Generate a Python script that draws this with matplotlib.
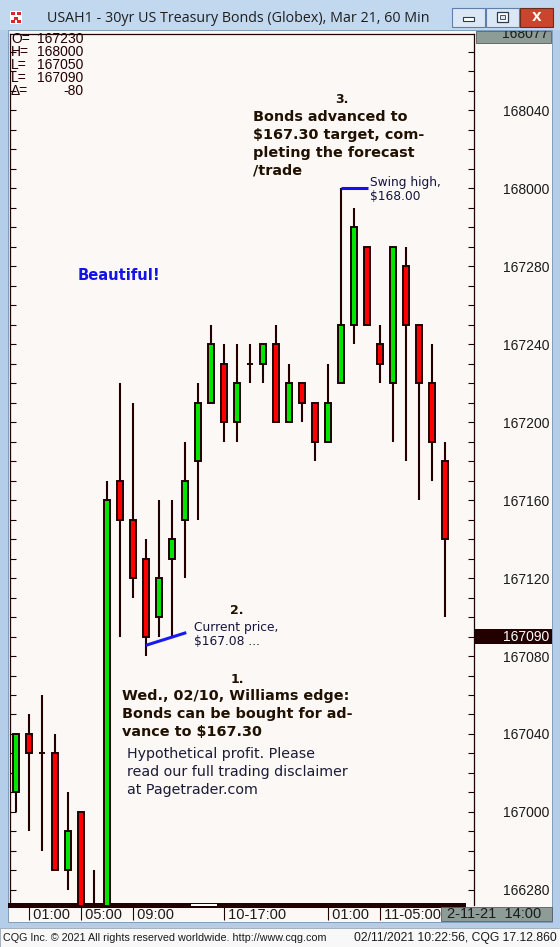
import matplotlib
matplotlib.use("Agg")
import matplotlib.pyplot as plt
from matplotlib.patches import Rectangle

# 60 min bars, 02/10 00:00 .. 02/11 10:00 (no 16:00 bar), prices in 32nds (167 04 -> 167*32 + 4)
bar_open = [5345, 5348, 5347, 5347, 5341, 5344, 5338, 5337, 5361, 5359, 5357, 5354,
            5357, 5359, 5362, 5365, 5367, 5364, 5367, 5367, 5368, 5364, 5366, 5365,
            5363, 5366, 5369, 5373, 5368, 5366, 5372, 5369, 5366, 5362]
bar_high = [5348, 5349, 5350, 5348, 5345, 5344, 5341, 5361, 5366, 5365, 5358, 5360,
            5360, 5363, 5366, 5369, 5368, 5368, 5368, 5368, 5369, 5367, 5366, 5365,
            5367, 5376, 5375, 5373, 5369, 5373, 5373, 5369, 5368, 5363]
bar_low = [5344, 5343, 5342, 5341, 5340, 5336, 5336, 5336, 5353, 5355, 5352, 5353,
           5353, 5356, 5359, 5365, 5363, 5363, 5366, 5366, 5364, 5364, 5364, 5362,
           5363, 5366, 5368, 5369, 5366, 5363, 5362, 5360, 5361, 5354]
bar_close = [5348, 5347, 5347, 5341, 5343, 5337, 5337, 5360, 5359, 5356, 5353, 5356,
             5358, 5361, 5365, 5368, 5364, 5366, 5367, 5368, 5364, 5366, 5365, 5363,
             5365, 5369, 5374, 5369, 5367, 5373, 5369, 5366, 5363, 5358]

time_ticks = [1, 5, 9, 16, 24, 28]
time_labels = ['01:00', '05:00', '09:00', '10-17:00', '01:00', '11-05:00']
price_ticks = list(range(5340, 5384, 4))
last_price = 5353
swing_high = 5376
current_line_x = [10, 13.1]
current_line_y = [5352.55, 5353.2]
ohlc_rows = [('O=', '167230'), ('H=', '168000'), ('L=', '167050'),
             ('L=', '167090'), ('\u0394=', '-80')]

W, H = 560, 947
dark = '#220000'
bg = '#fcf8f6'
frame = '#b4cde8'
gray_box = '#8d9c97'


def fmt32(v):
    return f"{v // 32}{v % 32:02d}0"


fig = plt.figure(figsize=(W / 100, H / 100), dpi=100)
fig.patch.set_facecolor(frame)


def box(x0, y0, x1, y1, z=-5, **kw):
    r = Rectangle((x0 / W, 1 - y1 / H), (x1 - x0) / W, (y1 - y0) / H,
                  transform=fig.transFigure, zorder=z, **kw)
    fig.add_artist(r)
    return r


def ftext(x, y, s, **kw):
    kw.setdefault('zorder', 4)
    return fig.text(x / W, 1 - y / H, s, **kw)


# window chrome
box(0, 0, W, 30, facecolor='#c2d8ef', edgecolor='none')
box(8, 30, 552, 922, facecolor=bg, edgecolor='#7f9db9', linewidth=0.7)
box(0, 928, W, H, facecolor='#f8f8f8', edgecolor='#9aa8b8', linewidth=0.6)

# icon
box(10, 11, 22, 24, facecolor='white', edgecolor='none', z=1)
for ix, iy in [(11, 12), (17, 12), (14, 17), (11, 20), (17, 20)]:
    box(ix, iy, ix + 4, iy + 3, facecolor='#d42a2a', edgecolor='none', z=2)

ftext(47, 18, 'USAH1 - 30yr US Treasury Bonds (Globex), Mar 21, 60 Min',
      family='Open Sans', fontsize=10.3, va='center', color='#1e1e1e')

# window buttons
box(452, 8, 485, 27, facecolor='#dbe7f4', edgecolor='#5d7fa8', linewidth=0.8, z=1)
box(463, 17, 474, 21, facecolor='white', edgecolor='#2a3a50', linewidth=0.8, z=2)
box(486, 8, 519, 27, facecolor='#dbe7f4', edgecolor='#5d7fa8', linewidth=0.8, z=1)
box(497, 12, 508, 22, facecolor='white', edgecolor='#2a3a50', linewidth=0.9, z=2)
box(500, 15, 505, 19, facecolor='#dbe7f4', edgecolor='#2a3a50', linewidth=0.6, z=3)
box(520, 8, 553, 27, facecolor='#c9452d', edgecolor='#6b2a1e', linewidth=0.8, z=1)
ftext(536.5, 17.5, 'X', fontsize=9, weight='bold', color='white', ha='center', va='center')

# chart
ax = fig.add_axes([10 / W, 1 - 905 / H, 464 / W, 871 / H])
ax.set_facecolor(bg)
ax.set_xlim(-0.46, 35.23)
ax.set_ylim(5339.23, 5383.9)

xs = list(range(len(bar_open)))
colors = ['#00e600' if c >= o else '#ff0000' for o, c in zip(bar_open, bar_close)]
ax.vlines(xs, bar_low, bar_high, color=dark, linewidth=1.5, zorder=2)
ax.bar(xs, [c - o for o, c in zip(bar_open, bar_close)], bottom=bar_open, width=0.5,
       color=colors, edgecolor=dark, linewidth=1.4, zorder=3)

for s in ['left', 'right', 'top']:
    ax.spines[s].set_color(dark)
    ax.spines[s].set_linewidth(0.9)
ax.spines['bottom'].set_color(dark)
ax.spines['bottom'].set_linewidth(3.6)
ax.spines['bottom'].set_bounds(-0.46, 34.4)

ax.set_yticks(price_ticks)
ax.set_yticklabels([fmt32(v) for v in price_ticks])
ax.set_yticks(range(5340, 5384), minor=True)
ax.tick_params(axis='y', which='both', direction='in', left=True, right=True,
               length=4, width=0.8, color=dark, labelleft=False, labelright=True,
               pad=54, labelsize=10, labelcolor='#1a1a1a')
for lab in ax.get_yticklabels():
    lab.set_horizontalalignment('right')
    lab.set_family('Liberation Sans')

ax.set_xticks(time_ticks)
ax.set_xticklabels([' ' + t for t in time_labels])
ax.tick_params(axis='x', direction='out', length=11, width=0.8, color=dark,
               pad=-8.6, labelsize=10.5, labelcolor='#1a1a1a')
for lab in ax.get_xticklabels():
    lab.set_horizontalalignment('left')
    lab.set_family('Liberation Sans')

# current price marker on the price scale
ax.add_patch(Rectangle((1.0, last_price - 0.41), 78 / 464, 0.82, transform=ax.get_yaxis_transform(),
                       facecolor=dark, edgecolor='none', clip_on=False, zorder=5))
ax.text(539 / 464, last_price, fmt32(last_price), transform=ax.get_yaxis_transform(),
        ha='right', va='center', color='white', fontsize=10, family='Liberation Sans',
        clip_on=False, zorder=6)

# annotation lines
ax.plot([25, 27.1], [swing_high, swing_high], color='#1010f0', linewidth=2.2, zorder=4,
        solid_capstyle='butt')
ax.plot(current_line_x, current_line_y, color='#1a1af0', linewidth=2.2, zorder=4,
        solid_capstyle='butt')

# scroll marker on the bottom bar and boxes on the scales
box(191, 903.5, 217, 905.5, facecolor='white', edgecolor='none', z=1)
top_box = box(476, 31, 551, 43, facecolor=gray_box, edgecolor='#5a5a5a', linewidth=0.6, z=1)
t = ftext(548, 34, '168077', ha='right', va='center', fontsize=10,
          family='Liberation Sans', color='#1a1a1a')
t.set_clip_path(top_box)
time_box = box(441, 907, 552, 921, facecolor=gray_box, edgecolor='#5a5a5a', linewidth=0.6, z=1)
t = ftext(447, 914, '2-11-21  14:00', ha='left', va='center', fontsize=10.5,
          family='Liberation Sans', color='#1a1a1a')
t.set_clip_path(time_box)

# OHLC readout
for k, (lab, val) in enumerate(ohlc_rows):
    yy = 39 + 13 * k
    ftext(11, yy, lab, va='center', fontsize=10, family='Liberation Sans', color=dark)
    ftext(83, yy, val, va='center', ha='right', fontsize=10, family='Liberation Sans', color=dark)

# commentary
note = '#201000'
ftext(342, 103, '3.', ha='center', va='baseline', fontsize=9, weight='bold', color=note)
for k, line in enumerate(['Bonds advanced to', '$167.30 target, com-',
                          'pleting the forecast', '/trade']):
    ftext(253, 121 + 17.8 * k, line, va='baseline', fontsize=10.4, weight='bold', color=note)

ftext(370, 186, 'Swing high,', va='baseline', fontsize=8.8, color='#14143c')
ftext(370, 200, '$168.00', va='baseline', fontsize=8.8, color='#14143c')

ftext(78, 280, 'Beautiful!', va='baseline', fontsize=10.6, weight='bold', color='#1414e6')

ftext(237, 614, '2.', ha='center', va='baseline', fontsize=9, weight='bold', color=note)
ftext(194, 631, 'Current price,', va='baseline', fontsize=8.8, color='#14143c')
ftext(194, 645, '$167.08 ...', va='baseline', fontsize=8.8, color='#14143c')

ftext(237, 683, '1.', ha='center', va='baseline', fontsize=9, weight='bold', color=note)
for k, line in enumerate(['Wed., 02/10, Williams edge:', 'Bonds can be bought for ad-',
                          'vance to $167.30']):
    ftext(122, 700 + 17.9 * k, line, va='baseline', fontsize=10.4, weight='bold', color=note)
for k, line in enumerate(['Hypothetical profit. Please', 'read our full trading disclaimer',
                          'at Pagetrader.com']):
    ftext(127, 758 + 18 * k, line, va='baseline', fontsize=10.3, color='#1b1b36')

# footer
ftext(3, 938, 'CQG Inc. \u00a9 2021 All rights reserved worldwide. http://www.cqg.com',
      va='center', fontsize=7.75, family='Liberation Sans', color='#1a1a1a')
ftext(557, 938, '02/11/2021 10:22:56, CQG 17.12.860', va='center', ha='right',
      fontsize=8.7, family='Liberation Sans', color='#1a1a1a')

fig.savefig('out.png', dpi=100, facecolor=fig.get_facecolor())
